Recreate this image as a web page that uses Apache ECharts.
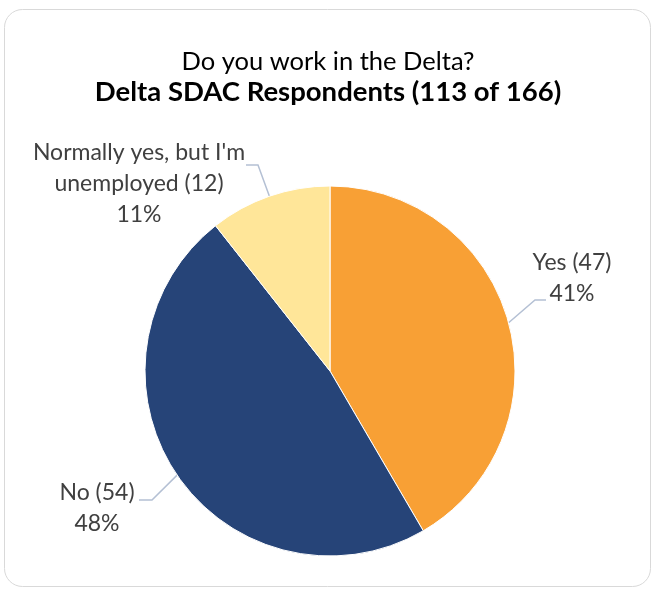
<!DOCTYPE html>
<html>
<head>
<meta charset="utf-8">
<script src="https://cdn.jsdelivr.net/npm/echarts@6/dist/echarts.min.js"></script>
<style>
  html, body { margin: 0; padding: 0; background: #ffffff; }
  #chart { width: 656px; height: 589px; }
</style>
</head>
<body>
<div id="chart"></div>
<script>
// Survey answers, counts of respondents
const categories = ['Yes', 'No', "Normally yes, but I'm unemployed"];
const counts = [47, 54, 12];
const percentLabels = ['41%', '48%', '11%'];
const sliceColors = ['#F8A035', '#264478', '#FFE699'];

const titleLine1 = 'Do you work in the Delta?';
const titleLine2 = 'Delta SDAC Respondents (113 of 166)';

// centre of each label block, plus the bend and end of its leader line
const labelSpots = [
  { x: 572, y: 278, bend: [535, 300], end: [546, 300] },
  { x: 97,  y: 508, bend: [152, 500], end: [139, 500] },
  { x: 139, y: 184, bend: [258, 165], end: [246, 165] }
];

const FONT = 'Lato, "Open Sans", sans-serif';

const chart = echarts.init(document.getElementById('chart'), null, { renderer: 'canvas' });

chart.setOption({
  backgroundColor: '#ffffff',
  animation: false,
  graphic: [{
    type: 'rect',
    shape: { x: 4.5, y: 9.5, width: 646, height: 577, r: 18 },
    style: { fill: 'none', stroke: '#d9d9d9', lineWidth: 1 },
    z: -1
  }],
  title: {
    text: '{a|' + titleLine1 + '}\n{b|' + titleLine2 + '}',
    left: 'center',
    top: 41,
    textStyle: {
      rich: {
        a: { fontFamily: FONT, fontSize: 25.5, color: '#000000', lineHeight: 31, fontWeight: 'normal' },
        b: { fontFamily: FONT, fontSize: 27.5, color: '#000000', lineHeight: 31, fontWeight: 'bold' }
      }
    }
  },
  series: [{
    type: 'pie',
    center: [330, 371],
    radius: [0, 185],
    startAngle: 90,
    clockwise: true,
    itemStyle: { borderColor: '#ffffff', borderWidth: 1 },
    data: categories.map((name, i) => ({
      name: name,
      value: counts[i],
      itemStyle: { color: sliceColors[i] }
    })),
    label: {
      show: true,
      position: 'outside',
      formatter: (p) => {
        const head = p.dataIndex === 2 ? "Normally yes, but I'm\nunemployed (" + p.value + ')' : p.name + ' (' + p.value + ')';
        return head + '\n' + percentLabels[p.dataIndex];
      },
      fontFamily: FONT,
      fontSize: 23,
      lineHeight: 31,
      color: '#404040',
      align: 'center'
    },
    labelLine: {
      show: true,
      length: 20,
      length2: 10,
      lineStyle: { color: '#B4C0D4', width: 1.5 }
    },
    labelLayout: (params) => {
      const s = labelSpots[params.dataIndex];
      // keep the line's start on the slice edge, as placed by the pie layout
      const start = params.labelLinePoints ? params.labelLinePoints[0] : null;
      const out = { x: s.x, y: s.y, align: 'center', verticalAlign: 'middle' };
      if (start) {
        out.labelLinePoints = [start, s.bend, s.end];
      }
      return out;
    }
  }]
});
</script>
</body>
</html>
